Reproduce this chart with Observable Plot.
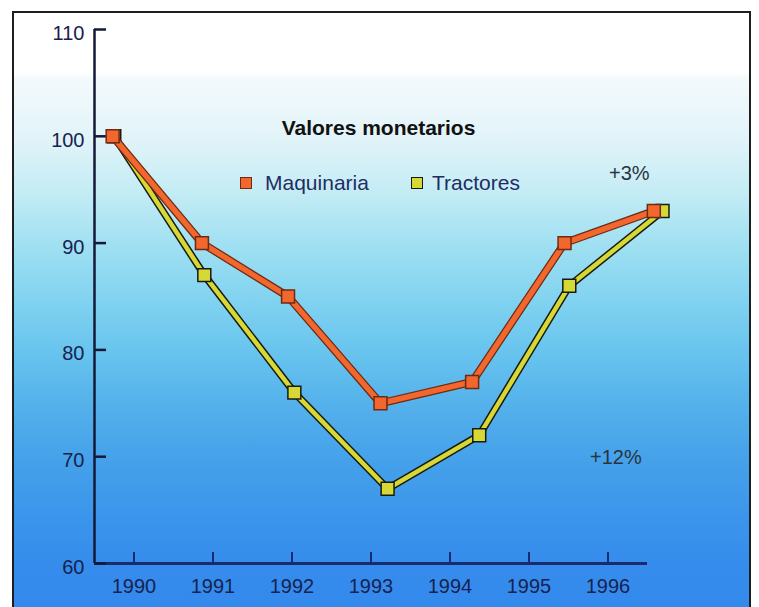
<!DOCTYPE html>
<html>
<head>
<meta charset="utf-8">
<script src="https://cdn.jsdelivr.net/npm/d3@7"></script>
<script src="https://cdn.jsdelivr.net/npm/@observablehq/plot@0.6"></script>
<style>
  body { margin: 0; background: #fff; }
  #wrap { position: relative; width: 759px; height: 607px; overflow: hidden;
          font-family: "Liberation Sans", Arial, Helvetica, sans-serif; }
  #panel { position: absolute; left: 12px; top: 11px; width: 739px; height: 640px;
           border: 2px solid #1e1e1e; box-sizing: border-box;
           background: linear-gradient(to bottom,
             #ffffff 0px, #ffffff 59px, #f4fafc 65px, #e2f4f9 124px, #c4ecf5 179px,
             #a0e0f2 232px, #80d2f0 289px, #68c4ee 339px, #55b2eb 389px,
             #46a2ea 443px, #3c96eb 499px, #358cec 552px, #3188ee 640px); }
  #chart { position: absolute; left: 0; top: 0; }
  .ttl { position: absolute; left: 0; width: 757px; top: 117px; text-align: center;
         font-weight: bold; font-size: 21px; line-height: 21px; color: #111; }
  .lg { position: absolute; top: 172px; font-size: 21px; line-height: 21px; color: #1f2d62; white-space: nowrap; }
  .sw { position: absolute; width: 12px; height: 12px; box-sizing: border-box; border: 1.5px solid #2a1a10; }
</style>
</head>
<body>
<div id="wrap">
  <div id="panel"></div>
  <div id="chart"></div>
  <div class="ttl" id="title"></div>
  <div id="legend"></div>
</div>
<script>
// ---- data ----
const title = "Valores monetarios";
const seriesNames = ["Maquinaria", "Tractores"];
const years = [1990, 1991, 1992, 1993, 1994, 1995, 1996];
// x positions of the markers (plotted slightly off the year ticks in the original)
const maquinariaX = [1989.73, 1990.86, 1991.95, 1993.12, 1994.28, 1995.45, 1996.58];
const maquinariaY = [100, 90, 85, 75, 77, 90, 93];
const tractoresX = [1989.75, 1990.89, 1992.03, 1993.21, 1994.37, 1995.51, 1996.69];
const tractoresY = [100, 87, 76, 67, 72, 86, 93];
const yTicks = [60, 70, 80, 90, 100, 110];
const annotationLabels = ["+3%", "+12%"];
const annotationX = [1996.27, 1996.10];
const annotationY = [96.5, 69.9];

const maq = maquinariaX.map((x, i) => ({x, y: maquinariaY[i]}));
const tra = tractoresX.map((x, i) => ({x, y: tractoresY[i]}));
const notes = annotationLabels.map((label, i) => ({label, x: annotationX[i], y: annotationY[i]}));

const orange = "#f2672e", orangeEdge = "#6e2a12";
const yellow = "#d6d836", yellowEdge = "#1a1a14";
const axisColor = "#18224e";

const chart = Plot.plot({
  width: 759,
  height: 607,
  marginLeft: 94,
  marginRight: 112,
  marginTop: 29,
  marginBottom: 44,
  style: {background: "transparent", fontFamily: "'Liberation Sans', Arial, sans-serif", overflow: "visible"},
  x: {domain: [1989.5, 1996.5], label: null},
  y: {domain: [60, 110], label: null},
  marks: [
    Plot.ruleX([1989.5], {stroke: "#141a36", strokeWidth: 2.5}),
    Plot.ruleY([60], {stroke: "#1a2a6e", strokeWidth: 3}),
    Plot.axisY(yTicks, {tickSize: -12, fill: "none", stroke: "#141a36", strokeWidth: 2.5, label: null}),
    Plot.axisY(yTicks, {tickSize: 0, tickPadding: 10, dy: 4, stroke: "none", fill: axisColor, fontSize: 20, label: null}),
    Plot.axisX(years, {tickSize: -11, fill: "none", stroke: "#1a2a6e", strokeWidth: 2, label: null}),
    Plot.axisX(years, {tickSize: 0, tickPadding: 15, stroke: "none", fill: axisColor, fontSize: 20, tickFormat: d => String(d), label: null}),
    // Tractores
    Plot.line(tra, {x: "x", y: "y", stroke: yellowEdge, strokeWidth: 7.5, strokeLinejoin: "round"}),
    Plot.line(tra, {x: "x", y: "y", stroke: yellow, strokeWidth: 4.5, strokeLinejoin: "round"}),
    Plot.dot(tra, {x: "x", y: "y", symbol: "square", r: 7.3, fill: yellow, stroke: yellowEdge, strokeWidth: 1.5}),
    // Maquinaria
    Plot.line(maq, {x: "x", y: "y", stroke: orangeEdge, strokeWidth: 8, strokeLinejoin: "round"}),
    Plot.line(maq, {x: "x", y: "y", stroke: orange, strokeWidth: 5.5, strokeLinejoin: "round"}),
    Plot.dot(maq, {x: "x", y: "y", symbol: "square", r: 7.3, fill: orange, stroke: orangeEdge, strokeWidth: 1.5}),
    // annotations
    Plot.text(notes, {x: "x", y: "y", text: "label", fontSize: 20, fill: "#2a3340"})
  ]
});
document.getElementById("chart").appendChild(chart);

document.getElementById("title").textContent = title;
const legend = document.getElementById("legend");
const legendItems = [
  {name: seriesNames[0], color: orange, edge: orangeEdge, sx: 240, tx: 265},
  {name: seriesNames[1], color: yellow, edge: yellowEdge, sx: 411, tx: 432}
];
legendItems.forEach(it => {
  const sw = document.createElement("div");
  sw.className = "sw";
  sw.style.left = it.sx + "px";
  sw.style.top = "177px";
  sw.style.background = it.color;
  sw.style.borderColor = it.edge;
  legend.appendChild(sw);
  const t = document.createElement("div");
  t.className = "lg";
  t.style.left = it.tx + "px";
  t.textContent = it.name;
  legend.appendChild(t);
});
</script>
</body>
</html>
